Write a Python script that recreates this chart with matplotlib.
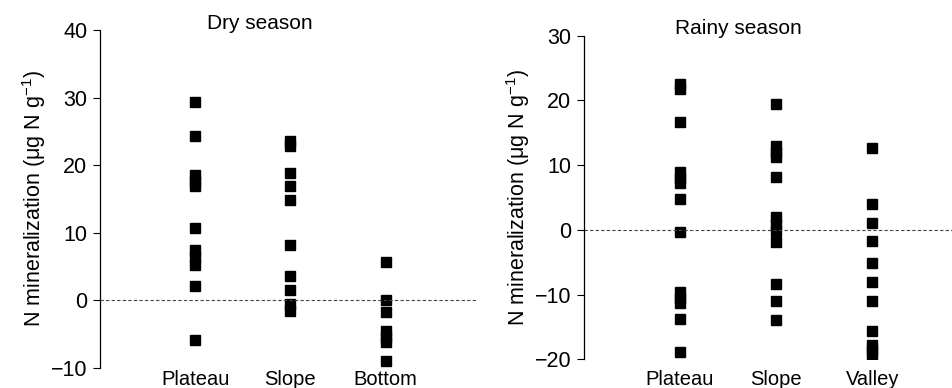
import matplotlib.pyplot as plt

plt.rcParams['font.family'] = ['Liberation Sans', 'DejaVu Sans']
plt.rcParams['mathtext.fontset'] = 'custom'
plt.rcParams['mathtext.rm'] = 'Liberation Sans'

# dry season values (ug N g-1)
dry_sites = ['Plateau', 'Slope', 'Bottom']
dry_plateau = [29.3, 24.3, 18.5, 17.7, 16.9, 10.7, 7.5, 6.4, 5.3, 2.2, -5.8]
dry_slope = [23.6, 22.8, 18.9, 16.9, 14.9, 8.2, 3.6, 1.5, -0.6, -1.5]
dry_bottom = [5.7, 0.1, -1.7, -4.5, -5.4, -6.2, -8.9]

# rainy season values
rainy_sites = ['Plateau', 'Slope', 'Valley']
rainy_plateau = [22.5, 21.8, 16.6, 9.0, 8.0, 7.3, 4.7, -0.4, -9.6, -10.5, -11.3, -13.8, -18.8]
rainy_slope = [19.4, 13.0, 12.0, 11.3, 8.1, 2.0, 0.9, -0.2, -1.8, -8.4, -11.0, -13.9]
rainy_valley = [12.7, 4.0, 1.0, -1.7, -5.1, -8.1, -11.0, -15.6, -17.8, -18.6, -19.4]

ylabel = 'N mineralization (\u03bcg N g$^{\\mathrm{\u22121}}$)'


def panel(ax, sites, groups, ylim, yticks, xmax, title, title_xy, xpad):
    for i, vals in enumerate(groups):
        ax.plot([i + 1] * len(vals), vals, 's', color='black', markersize=7, linestyle='none')
    ax.axhline(0, color='#444444', linestyle=(0, (3, 2)), linewidth=0.8)
    ax.set_xlim(0, xmax)
    ax.set_ylim(*ylim)
    ax.set_yticks(yticks)
    ax.set_yticklabels([str(t).replace('-', '\u2212') for t in yticks])
    ax.set_xticks([1, 2, 3])
    ax.set_xticklabels(sites)
    ax.tick_params(axis='x', length=0, pad=xpad, labelsize=14.5)
    ax.tick_params(axis='y', direction='out', length=5, width=0.8, labelsize=15.5, pad=4)
    for s in ['top', 'right', 'bottom']:
        ax.spines[s].set_visible(False)
    ax.spines['left'].set_linewidth(0.9)
    ax.set_ylabel(ylabel, fontsize=15.5, labelpad=2)
    ax.text(title_xy[0], title_xy[1], title, transform=ax.transAxes,
            ha='center', va='center', fontsize=15)


fig = plt.figure(figsize=(9.52, 3.88), dpi=100)
ax1 = fig.add_axes([0.105, 0.0515, 0.395, 0.8712])
ax2 = fig.add_axes([0.6134, 0.074, 0.3866, 0.834])

panel(ax1, dry_sites, [dry_plateau, dry_slope, dry_bottom], (-10, 40),
      [-10, 0, 10, 20, 30, 40], 3.95, 'Dry season', (0.425, 1.02), 1.5)
panel(ax2, rainy_sites, [rainy_plateau, rainy_slope, rainy_valley], (-20, 30),
      [-20, -10, 0, 10, 20, 30], 3.83, 'Rainy season', (0.42, 1.021), 7.5)

fig.savefig('out.png', dpi=100)
